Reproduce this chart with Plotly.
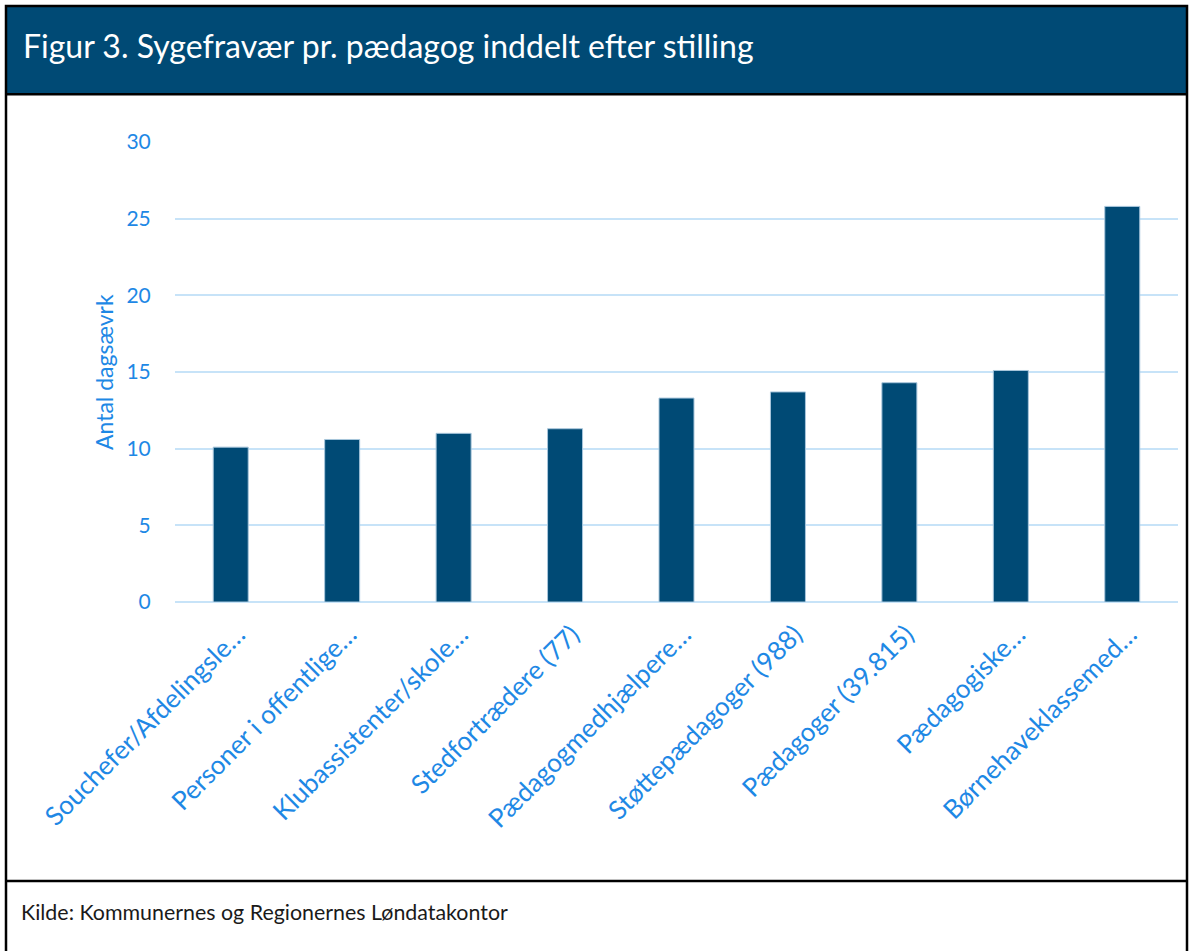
import plotly.graph_objects as go

categories = [
    "Souchefer/Afdelingsle…",
    "Personer i offentlige…",
    "Klubassistenter/skole…",
    "Stedfortrædere (77)",
    "Pædagogmedhjælpere…",
    "Støttepædagoger (988)",
    "Pædagoger (39.815)",
    "Pædagogiske…",
    "Børnehaveklassemed…",
]
values = [10.1, 10.6, 11.0, 11.3, 13.3, 13.7, 14.3, 15.1, 25.8]
y_ticks = [0, 5, 10, 15, 20, 25, 30]

title_text = "Figur 3. Sygefravær pr. pædagog inddelt efter stilling"
source_text = "Kilde: Kommunernes og Regionernes Løndatakontor"
y_title = "Antal dagsævrk"

W, H = 1190, 951
L, R, T, B = 175, 1178, 142, 602
PW, PH = R - L, B - T

def px(x):
    return (x - L) / PW

def py(y):
    return (B - y) / PH

DARK = "#004a75"
BLUE = "#1e88e5"
GRID = "#c7e3f8"
FONT = "Lato, 'Open Sans', sans-serif"

fig = go.Figure()
fig.add_trace(go.Bar(
    x=categories, y=values,
    marker=dict(color=DARK, line=dict(color="#a8c6dc", width=1)),
    hoverinfo="x+y",
))

shapes = [
    dict(type="rect", xref="paper", yref="paper", x0=px(6), x1=px(1187), y0=py(6), y1=py(94),
         fillcolor=DARK, line=dict(width=0), layer="below"),
    dict(type="rect", xref="paper", yref="paper", x0=px(6), x1=px(1187), y0=py(6), y1=py(960),
         fillcolor="rgba(0,0,0,0)", line=dict(color="black", width=2.5)),
    dict(type="line", xref="paper", yref="paper", x0=px(6), x1=px(1187), y0=py(94.3), y1=py(94.3),
         line=dict(color="black", width=2.5)),
    dict(type="line", xref="paper", yref="paper", x0=px(6), x1=px(1187), y0=py(881), y1=py(881),
         line=dict(color="black", width=2.5)),
]

annotations = [
    dict(text=title_text, xref="paper", yref="paper", x=px(21), y=py(45), xanchor="left", yanchor="middle",
         showarrow=False, font=dict(family=FONT, size=32, color="white")),
    dict(text=source_text, xref="paper", yref="paper", x=px(19), y=py(912), xanchor="left", yanchor="middle",
         showarrow=False, font=dict(family=FONT, size=21.4, color="#1a1a1a")),
    dict(text=y_title, xref="paper", yref="paper", x=px(104), y=py(372), xanchor="center", yanchor="middle",
         textangle=-90, showarrow=False, font=dict(family=FONT, size=23, color=BLUE)),
]

fig.update_layout(
    width=W, height=H,
    margin=dict(l=L, r=W - R, t=T, b=H - B, pad=0),
    paper_bgcolor="white", plot_bgcolor="white",
    bargap=0.686,
    showlegend=False,
    shapes=shapes,
    annotations=annotations,
    font=dict(family=FONT, color=BLUE),
    xaxis=dict(
        tickangle=-45, tickfont=dict(family=FONT, size=26, color=BLUE),
        showgrid=False, showline=False, zeroline=False,
        ticks="outside", ticklen=6, tickcolor="rgba(0,0,0,0)",
        ticklabelshift=7,
    ),
    yaxis=dict(
        range=[0, 30], tickvals=y_ticks, tickfont=dict(family=FONT, size=21, color=BLUE),
        showgrid=True, gridcolor=GRID, gridwidth=2,
        zeroline=True, zerolinecolor=GRID, zerolinewidth=2,
        showline=False,
        ticks="outside", ticklen=19, tickcolor="rgba(0,0,0,0)",
    ),
)

fig.write_html(
    "out.html",
    config={"displayModeBar": False},
    post_script="document.body.style.margin='0';document.body.style.overflow='hidden';",
)
